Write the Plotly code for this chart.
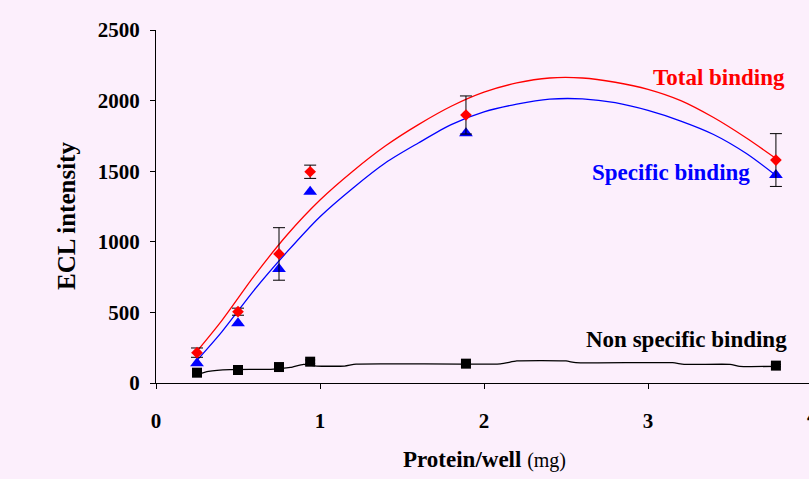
import plotly.graph_objects as go

# ---- data ----
conc = [0.25, 0.5, 0.75, 0.94, 1.89, 3.78]
total = [215, 505, 914, 1496, 1898, 1579]
total_err = [33, 25, 186, 47, 135, 187]
specific = [139, 423, 807, 1355, 1768, 1473]
nonspec = [73, 92, 113, 151, 137, 123]
nonspec_err = [10, 10, 12, 12, 8, 8]

# fitted trend curves
fit_x = [0.25, 0.4, 0.6, 0.8, 1.0, 1.2, 1.4, 1.6, 1.8, 2.0, 2.2, 2.4, 2.6, 2.8, 3.0, 3.2, 3.4, 3.6, 3.78]
total_fit = [225, 440, 760, 1050, 1296, 1500, 1680, 1830, 1960, 2060, 2125, 2160, 2160, 2130, 2080, 2000, 1880, 1735, 1590]
specific_fit = [160, 360, 660, 930, 1178, 1380, 1560, 1700, 1830, 1920, 1975, 2010, 2012, 1985, 1930, 1855, 1760, 1625, 1470]
ns_x = [0.25, 0.32, 0.45, 0.7, 0.82, 0.9, 0.98, 1.15, 1.22, 2.1, 2.2, 2.5, 2.56, 3.15, 3.22, 3.5, 3.56, 3.78]
ns_fit = [60, 82, 95, 97, 110, 132, 120, 120, 134, 136, 156, 156, 144, 144, 132, 132, 118, 118]

x_ticks = [0, 1, 2, 3]
y_ticks = [0, 500, 1000, 1500, 2000, 2500]

SERIF = "Liberation Serif"
BG = "#FCEFFC"

fig = go.Figure()

fig.add_trace(go.Scatter(x=fit_x, y=total_fit, mode="lines",
                         line=dict(color="#FF0000", width=1.3, shape="spline", smoothing=0.8),
                         hoverinfo="skip"))
fig.add_trace(go.Scatter(x=fit_x, y=specific_fit, mode="lines",
                         line=dict(color="#0000FF", width=1.3, shape="spline", smoothing=0.8),
                         hoverinfo="skip"))
fig.add_trace(go.Scatter(x=ns_x, y=ns_fit, mode="lines",
                         line=dict(color="#000000", width=1.3, shape="spline", smoothing=0.5),
                         hoverinfo="skip"))

fig.add_trace(go.Scatter(x=conc, y=specific, mode="markers",
                         marker=dict(symbol="triangle-up", size=12, color="#0000FF")))
fig.add_trace(go.Scatter(x=conc, y=total, mode="markers",
                         marker=dict(symbol="diamond", size=9, color="#FF0000"),
                         error_y=dict(type="data", array=total_err, color="#000000",
                                      thickness=1, width=6)))
fig.add_trace(go.Scatter(x=conc, y=nonspec, mode="markers",
                         marker=dict(symbol="square", size=10, color="#000000"),
                         error_y=dict(type="data", array=nonspec_err, color="#000000",
                                      thickness=1, width=5)))

fig.update_layout(
    width=809, height=479,
    margin=dict(l=156, r=0, t=30, b=96),
    paper_bgcolor=BG, plot_bgcolor=BG,
    showlegend=False,
    font=dict(family=SERIF, color="#000000"),
)

fig.update_xaxes(
    range=[0, 4 * 653 / 656], tickvals=x_ticks, ticktext=[str(v) for v in x_ticks],
    showgrid=False, zeroline=False, showline=True, linecolor="#000000", linewidth=1,
    ticks="outside", ticklen=5, tickcolor="#000000", tickwidth=1,
    tickfont=dict(family=SERIF, size=21, weight="bold", color="#000000"),
    ticklabelstandoff=14,
)
fig.update_yaxes(
    range=[0, 2500], tickvals=y_ticks, ticktext=[str(v) for v in y_ticks],
    showgrid=False, zeroline=False, showline=True, linecolor="#000000", linewidth=1,
    ticks="outside", ticklen=5, tickcolor="#000000", tickwidth=1,
    tickfont=dict(family=SERIF, size=21, weight="bold", color="#000000"),
    ticklabelstandoff=6,
)

ann_font = dict(family=SERIF, size=23)
fig.add_annotation(x=3.85, y=2167, xref="x", yref="y", text="<b>Total binding</b>",
                   showarrow=False, xanchor="right", yanchor="middle",
                   font=dict(**ann_font, color="#FF0000"))
fig.add_annotation(x=3.637, y=1494, xref="x", yref="y", text="<b>Specific binding</b>",
                   showarrow=False, xanchor="right", yanchor="middle",
                   font=dict(**ann_font, color="#0000FF"))
fig.add_annotation(x=3.862, y=305, xref="x", yref="y", text="<b>Non specific binding</b>",
                   showarrow=False, xanchor="right", yanchor="middle",
                   font=dict(**ann_font, color="#000000"))
# axis titles
fig.add_annotation(x=2.0, y=-0.218, xref="x", yref="paper",
                   text="<b>Protein/well</b> <span style='font-size:20px'>(mg)</span>",
                   showarrow=False, xanchor="center", yanchor="middle",
                   font=dict(family=SERIF, size=23, color="#000000"))
fig.add_annotation(x=0, y=0.473, xref="paper", yref="paper", xshift=-90,
                   text="<b>ECL intensity</b>", textangle=-90,
                   showarrow=False, xanchor="center", yanchor="middle",
                   font=dict(family=SERIF, size=25, color="#000000"))
# last x tick label, cut by the right edge as in the reference
fig.add_annotation(x=1, y=0, xref="paper", yref="paper", xshift=3, yshift=-33,
                   text="<b>4</b>", showarrow=False, xanchor="center", yanchor="middle",
                   font=dict(family=SERIF, size=21, color="#000000"))

fig.write_html("out.html", config={"displayModeBar": False},
               post_script="document.body.style.margin='0px';document.body.style.overflow='hidden';")
